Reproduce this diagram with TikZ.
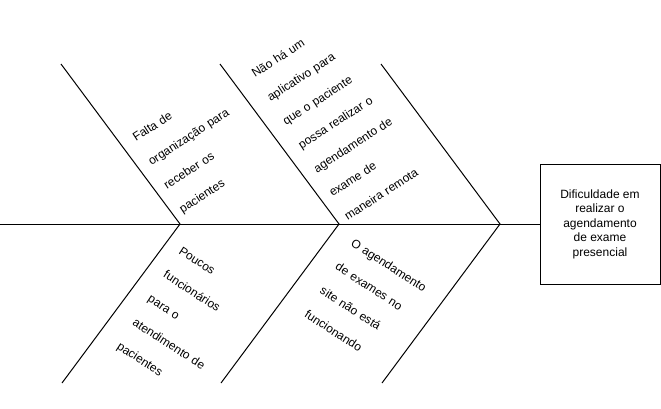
\documentclass[tikz,border=0pt]{standalone}
\usepackage{fontspec}
\setmainfont{Liberation Sans}
\usetikzlibrary{positioning}
\tikzstyle{fishbone} = [x = 1pt, y = -1pt]
\tikzstyle{boneLine} = [color=black, line width=1pt]
\tikzstyle{causeText} = [inner sep=0pt, text width=160pt, align=left, anchor=base west, font=\fontsize{12}{28.4}\selectfont]
\tikzstyle{effectBox} = [draw, line width=1pt, minimum width=120pt, minimum height=120pt, align=center, inner sep=0pt, font=\fontsize{12}{14.5}\selectfont]
\newcommand{\topAngle}{33}
\newcommand{\bottomAngle}{-33}
\newcommand{\spineY}{224}
\begin{document}
\begin{tikzpicture}[fishbone]
          \useasboundingbox (0,0) rectangle (661,408);
          % head of the fish
          \coordinate (spineStart) at (0, \spineY);
          \node [effectBox] (effect) at (600, \spineY) {Dificuldade em\\realizar o\\agendamento\\de exame\\presencial};
          \draw [boneLine] (spineStart) -- (effect);

          % bones
          \foreach \joint/\x in {One/180, Two/339, Three/500} {
            \coordinate (joint\joint) at (\x, \spineY);
            \coordinate (top\joint) at (\x - 119, 64);
            \coordinate (bottom\joint) at (\x - 118, 383);
            \draw [boneLine] (top\joint) -- (joint\joint) -- (bottom\joint);
          }

          % causes
          \node [causeText, rotate=\topAngle] (causeOne) at (136, 142) {Falta de\\organização para\\receber os\\pacientes};
          \node [causeText, rotate=\topAngle] (causeTwo) at (255, 78) {Não há um\\aplicativo para\\que o paciente\\possa realizar o\\agendamento de\\exame de\\maneira remota};
          \node [causeText, rotate=\bottomAngle] (causeThree) at (178, 253) {Poucos\\funcionários\\para o\\atendimento de\\pacientes};
          \node [causeText, rotate=\bottomAngle] (causeFour) at (350, 245) {O agendamento\\de exames no\\site não está\\funcionando};
        \end{tikzpicture}
\end{document}
